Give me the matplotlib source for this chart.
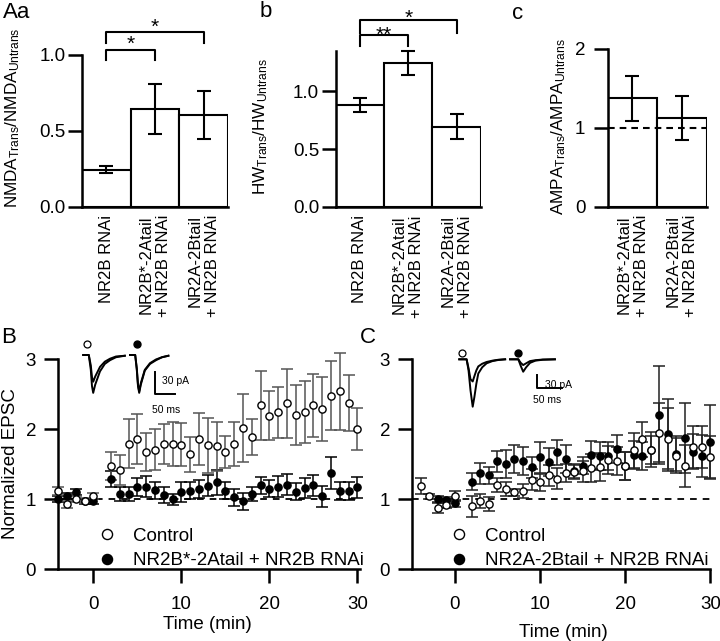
import matplotlib
matplotlib.use("Agg")
import matplotlib.pyplot as plt
import numpy as np

plt.rcParams['font.family'] = ['Liberation Sans', 'DejaVu Sans']
plt.rcParams['mathtext.fontset'] = 'custom'
plt.rcParams['mathtext.rm'] = 'Liberation Sans'
plt.rcParams['mathtext.it'] = 'Liberation Sans:italic'
plt.rcParams['mathtext.default'] = 'rm'

# ---------------- data ----------------
cat_A = ["NR2B RNAi", "NR2B*-2Atail\n+ NR2B RNAi", "NR2A-2Btail\n+ NR2B RNAi"]
nmda_ratio = [0.245, 0.645, 0.605]
nmda_err = [0.02, 0.165, 0.16]
hw_ratio = [0.882, 1.245, 0.695]
hw_err = [0.06, 0.10, 0.105]
cat_c = ["NR2B*-2Atail\n+ NR2B RNAi", "NR2A-2Btail\n+ NR2B RNAi"]
ampa_ratio = [1.37, 1.12]
ampa_err = [0.29, 0.28]

t_base = [-4, -3, -2, -1, 0]
t_post = list(range(2, 31))
B_time = t_base + t_post
B_ctrl = [1.12, 0.93, 1.0, 0.98, 1.05,
          1.47, 1.42, 1.79, 1.86, 1.67, 1.71, 1.79, 1.79, 1.78, 1.64, 1.86, 1.77, 1.76, 1.67, 1.79,
          2.02, 1.89, 2.34, 2.19, 2.24, 2.37, 2.20, 2.25, 2.34, 2.29, 2.48, 2.54, 2.37, 2.00]
B_ctrl_err = [0.06, 0.05, 0.04, 0.04, 0.04,
              0.20, 0.21, 0.35, 0.36, 0.27, 0.29, 0.29, 0.32, 0.31, 0.25, 0.37, 0.39, 0.35, 0.23, 0.32,
              0.49, 0.26, 0.49, 0.35, 0.37, 0.49, 0.43, 0.44, 0.45, 0.46, 0.49, 0.55, 0.40, 0.30]
B_exp = [1.0, 1.05, 1.10, 0.97, 0.97,
         1.29, 1.08, 1.08, 1.18, 1.18, 1.13, 1.06, 1.00, 1.10, 1.12, 1.15, 1.19, 1.24, 1.12, 1.03,
         0.97, 1.08, 1.20, 1.15, 1.18, 1.21, 1.11, 1.16, 1.20, 1.04, 1.38, 1.12, 1.12, 1.17]
B_exp_err = [0.04, 0.04, 0.04, 0.04, 0.04,
             0.12, 0.10, 0.10, 0.13, 0.15, 0.12, 0.12, 0.08, 0.14, 0.12, 0.13, 0.15, 0.18, 0.12, 0.12,
             0.12, 0.10, 0.12, 0.12, 0.15, 0.15, 0.12, 0.14, 0.15, 0.15, 0.23, 0.13, 0.13, 0.15]

C_ctrl_time = t_base + t_post
C_ctrl = [1.19, 1.04, 0.88, 0.92, 1.05,
          0.90, 0.97, 0.93, 1.20, 1.15, 1.10, 1.12, 1.28, 1.24, 1.34, 1.29, 1.37, 1.39, 1.40, 1.45,
          1.46, 1.56, 1.55, 1.47, 1.70, 1.86, 1.71, 1.95, 1.86, 1.62, 1.48, 1.75, 1.74, 1.61]
C_ctrl_err = [0.11, 0.03, 0.07, 0.05, 0.07,
              0.15, 0.10, 0.10, 0.10, 0.10, 0.05, 0.10, 0.15, 0.12, 0.15, 0.15, 0.13, 0.10, 0.15, 0.20,
              0.20, 0.20, 0.20, 0.20, 0.25, 0.25, 0.25, 0.42, 0.45, 0.25, 0.30, 0.30, 0.30, 0.30]
C_exp_time = [-2, -1, 0] + t_post
C_exp = [1.0, 0.99, 0.94,
         1.25, 1.37, 1.34, 1.54, 1.50, 1.57, 1.55, 1.46, 1.60, 1.53, 1.67, 1.57, 1.41, 1.48, 1.63,
         1.62, 1.62, 1.72, 1.48, 1.63, 1.62, 1.70, 2.20, 1.93, 1.65, 1.88, 1.68, 1.62, 1.82]
C_exp_err = [0.04, 0.04, 0.05,
             0.12, 0.15, 0.12, 0.15, 0.20, 0.20, 0.20, 0.15, 0.22, 0.20, 0.18, 0.20, 0.10, 0.12, 0.20,
             0.20, 0.20, 0.20, 0.20, 0.20, 0.20, 0.20, 0.70, 0.50, 0.25, 0.50, 0.25, 0.30, 0.53]

# example EPSC traces (ms, pA)
B_tr1_t = [8, 22, 27, 30, 33, 38, 50, 62, 75, 90, 112]
B_tr1_pre = [0, 0, -14, -30, -36, -29, -16, -9, -5, -2, -1]
B_tr1_post = [0, 0, -20, -42, -51, -40, -22, -12, -7, -3, -1]
B_tr2_t = [125, 138, 142, 145, 148, 152, 162, 175, 190, 205, 221]
B_tr2_pre = [0, 0, -18, -40, -49, -38, -20, -11, -6, -3, -1]
B_tr2_post = [0, 0, -20, -42, -51, -40, -21, -12, -7, -3, -1]
C_tr1_t = [19, 34, 38, 42, 46.5, 50, 54, 58, 66, 75, 87, 99, 113]
C_tr1_pre = [0, 0, -20, -45, -50, -38, -25, -16, -10, -6, -3, -1, 0]
C_tr1_post = [0, 0, -25, -70, -107, -85, -55, -32, -18, -9, -4, -1.5, 0]
C_tr2_t = [123, 140, 145, 150, 156, 164, 175, 190, 215]
C_tr2_pre = [0, 0, -8, -13, -9, -4, -2, -0.5, 0]
C_tr2_post = [0, 0, -15, -28, -18, -8, -3, -1, 0]

W, H = 720, 641
fig = plt.figure(figsize=(W / 100, H / 100), dpi=100)


def px_axes(left, right, y0px, ppu, ylim_top):
    # y0px: pixel row of y=0, ppu: pixels per unit
    bottom = 1 - y0px / H
    height = ylim_top * ppu / H
    return fig.add_axes([left / W, bottom, (right - left) / W, height])


TFS = 13.5
LFS = 12.3
LW = 1.8


def style_bar_axes(ax, top_bound, ticks, ticklabels):
    ax.spines['top'].set_visible(False)
    ax.spines['right'].set_visible(False)
    ax.spines['left'].set_bounds(0, top_bound)
    ax.spines['left'].set_linewidth(LW)
    ax.spines['bottom'].set_linewidth(LW)
    ax.set_yticks(ticks)
    ax.set_yticklabels(ticklabels, fontsize=TFS)
    ax.tick_params(axis='y', length=10, width=LW, pad=2)
    ax.tick_params(axis='x', length=0, pad=6)


def bars(ax, cats, vals, errs):
    x = np.arange(len(vals))
    ax.bar(x, vals, width=1.0, color='white', edgecolor='black', linewidth=1.5, zorder=2)
    ax.errorbar(x, vals, yerr=errs, fmt='none', ecolor='black', elinewidth=1.5,
                capsize=5, capthick=1.5, zorder=3)
    ax.set_xlim(-0.5, len(vals) - 0.5)
    ax.set_xticks(x)
    ax.set_xticklabels(cats, rotation=90, fontsize=12, ha='center', va='top',
                       multialignment='right')


def bracket(ax, x0, x1, ytop, ydrop, star, ystar):
    ax.plot([x0, x0, x1, x1], [ydrop, ytop, ytop, ydrop], color='black', lw=1.5,
            clip_on=False)
    ax.text((x0 + x1) / 2, ystar, star, ha='center', va='baseline', fontsize=15)


# ---- Aa ----
axA = px_axes(82, 228, 206.7, 151.7, 1.3)
bars(axA, cat_A, nmda_ratio, nmda_err)
axA.set_ylim(0, 1.3)
style_bar_axes(axA, 1.0, [0, 0.5, 1.0], ['0.0', '0.5', '1.0'])
axA.set_ylabel(r'NMDA$_{Trans}$/NMDA$_{Untrans}$', fontsize=LFS)
axA.yaxis.set_label_coords(-0.41, 0.45)
bracket(axA, 0, 1, 1.03, 0.967, '*', 1.035)
bracket(axA, 0, 2, 1.154, 1.08, '*', 1.145)

# ---- b ----
axb = px_axes(335.7, 480.7, 207, 115.7, 1.75)
bars(axb, cat_A, hw_ratio, hw_err)
axb.set_ylim(0, 1.75)
style_bar_axes(axb, 1.346, [0, 0.5, 1.0], ['0.0', '0.5', '1.0'])
axb.set_ylabel(r'HW$_{Trans}$/HW$_{Untrans}$', fontsize=LFS)
axb.yaxis.set_label_coords(-0.455, 0.395)
bracket(axb, 0, 1, 1.49, 1.39, '**', 1.44)
bracket(axb, 0, 2, 1.62, 1.50, '*', 1.58)

# ---- c ----
axc = px_axes(607.7, 706.7, 206.7, 79, 2.5)
bars(axc, cat_c, ampa_ratio, ampa_err)
axc.set_ylim(0, 2.5)
style_bar_axes(axc, 2.0, [0, 1, 2], ['0', '1', '2'])
axc.tick_params(axis='y', pad=6)
axc.axhline(1, color='black', lw=1.5, linestyle=(0, (3.2, 2.4)), zorder=4)
axc.set_ylabel(r'AMPA$_{Trans}$/AMPA$_{Untrans}$', fontsize=LFS)
axc.yaxis.set_label_coords(-0.40, 0.404)


# ---- time courses ----
def style_time_axes(ax, xlim):
    ax.set_xlim(*xlim)
    ax.set_ylim(0, 3.2)
    ax.spines['top'].set_visible(False)
    ax.spines['right'].set_visible(False)
    ax.spines['left'].set_bounds(0, 3)
    ax.spines['left'].set_linewidth(LW)
    ax.spines['bottom'].set_linewidth(LW)
    ax.set_yticks([0, 1, 2, 3])
    ax.set_xticks([0, 10, 20, 30])
    ax.tick_params(axis='both', length=10, width=LW, labelsize=TFS)
    ax.tick_params(axis='y', pad=6)
    ax.tick_params(axis='x', pad=9)
    ax.axhline(1, color='black', lw=1.3, linestyle=(0, (3.7, 3.3)), zorder=1)


def series(ax, t, m, e, filled, ecol):
    ax.errorbar(t, m, yerr=e, fmt='none', ecolor=ecol, elinewidth=1.1, capsize=4,
                capthick=1.1, zorder=2, clip_on=False)
    if filled:
        h, = ax.plot(t, m, 'o', ms=5.2, mfc='black', mec='black', mew=1, ls='none',
                     zorder=3, clip_on=False)
    else:
        h, = ax.plot(t, m, 'o', ms=5.2, mfc='white', mec='black', mew=1, ls='none',
                     zorder=4, clip_on=False)
    return h


LEGKW = dict(loc='lower left', frameon=False, fontsize=TFS, markerscale=1.4,
             handlelength=1.0, handletextpad=0.9, labelspacing=0.38, borderpad=0,
             borderaxespad=0)

axB = px_axes(58.3, 359.6, 569.3, 70, 3.2)
style_time_axes(axB, (-4, 30.25))
hb2 = series(axB, B_time, B_exp, B_exp_err, True, 'black')
hb1 = series(axB, B_time, B_ctrl, B_ctrl_err, False, '#555555')
axB.set_ylabel('Normalized EPSC', fontsize=TFS, va='center')
axB.yaxis.set_label_coords(-0.16, 0.47)
axB.set_xlabel('Time (min)', fontsize=TFS, va='center')
axB.xaxis.set_label_coords(0.4935, -0.245)
axB.legend([hb1, hb2], ['Control', 'NR2B*-2Atail + NR2B RNAi'],
           bbox_to_anchor=(0.13, 0.0), **LEGKW)

axC = px_axes(412.3, 710.3, 569.3, 70, 3.2)
style_time_axes(axC, (-5, 30))
hc2 = series(axC, C_exp_time, C_exp, C_exp_err, True, '#222222')
hc1 = series(axC, C_ctrl_time, C_ctrl, C_ctrl_err, False, '#222222')
axC.set_xlabel('Time (min)', fontsize=TFS, va='center')
axC.xaxis.set_label_coords(0.5057, -0.280)
axC.legend([hc1, hc2], ['Control', 'NR2A-2Btail + NR2B RNAi'],
           bbox_to_anchor=(0.125, 0.0), **LEGKW)


# ---- insets with example traces ----
def inset(left, right, top, bottom, xlim, ylim):
    a = fig.add_axes([left / W, 1 - bottom / H, (right - left) / W, (bottom - top) / H])
    a.set_xlim(*xlim)
    a.set_ylim(*ylim)
    a.axis('off')
    return a


iB = inset(80, 180, 340, 415, (0, 250), (-80.8, 20.2))
iB.plot(B_tr1_t, B_tr1_pre, color='black', lw=1.4, clip_on=False)
iB.plot(B_tr1_t, B_tr1_post, color='black', lw=1.4, clip_on=False)
iB.plot(B_tr2_t, B_tr2_pre, color='black', lw=1.4, clip_on=False)
iB.plot(B_tr2_t, B_tr2_post, color='black', lw=1.4, clip_on=False)
iB.plot([16.7], [14.8], 'o', ms=5, mfc='white', mec='black', mew=0.9, clip_on=False)
iB.plot([143], [14.8], 'o', ms=5, mfc='black', mec='black', clip_on=False)
iB.plot([187.5, 187.5, 237.5], [-22.5, -52.5, -52.5], color='black', lw=1.4, clip_on=False)
iB.text(204, -34.7, '30 pA', fontsize=7.5, va='center', ha='left')
iB.text(179, -74.4, '50 ms', fontsize=7.5, va='center', ha='left')

iC = inset(450, 570, 345, 410, (0, 245.9), (-114.4, 32.3))
iC.plot(C_tr1_t, C_tr1_pre, color='black', lw=1.4, clip_on=False)
iC.plot(C_tr1_t, C_tr1_post, color='black', lw=1.4, clip_on=False)
iC.plot(C_tr2_t, C_tr2_pre, color='black', lw=1.4, clip_on=False)
iC.plot(C_tr2_t, C_tr2_post, color='black', lw=1.4, clip_on=False)
iC.plot([24], [15], 'o', ms=5, mfc='white', mec='black', mew=0.9, clip_on=False)
iC.plot([139], [15], 'o', ms=5, mfc='black', mec='black', clip_on=False)
iC.plot([179, 179, 229], [-35.4, -65.5, -65.5], color='black', lw=1.4, clip_on=False)
iC.text(195, -64, '30 pA', fontsize=7.5, va='baseline', ha='left')
iC.text(171, -92.6, '50 ms', fontsize=7.5, va='center', ha='left')

# ---- panel letters ----
fig.text(3 / W, 1 - 2 / H, 'Aa', fontsize=16, va='top', ha='left')
fig.text(260 / W, 1 - 1 / H, 'b', fontsize=16, va='top', ha='left')
fig.text(512 / W, 1 - 3 / H, 'c', fontsize=16, va='top', ha='left')
fig.text(1 / W, 1 - 327 / H, 'B', fontsize=16, va='top', ha='left')
fig.text(360 / W, 1 - 327 / H, 'C', fontsize=16, va='top', ha='left')

fig.savefig('out.png', dpi=100)
